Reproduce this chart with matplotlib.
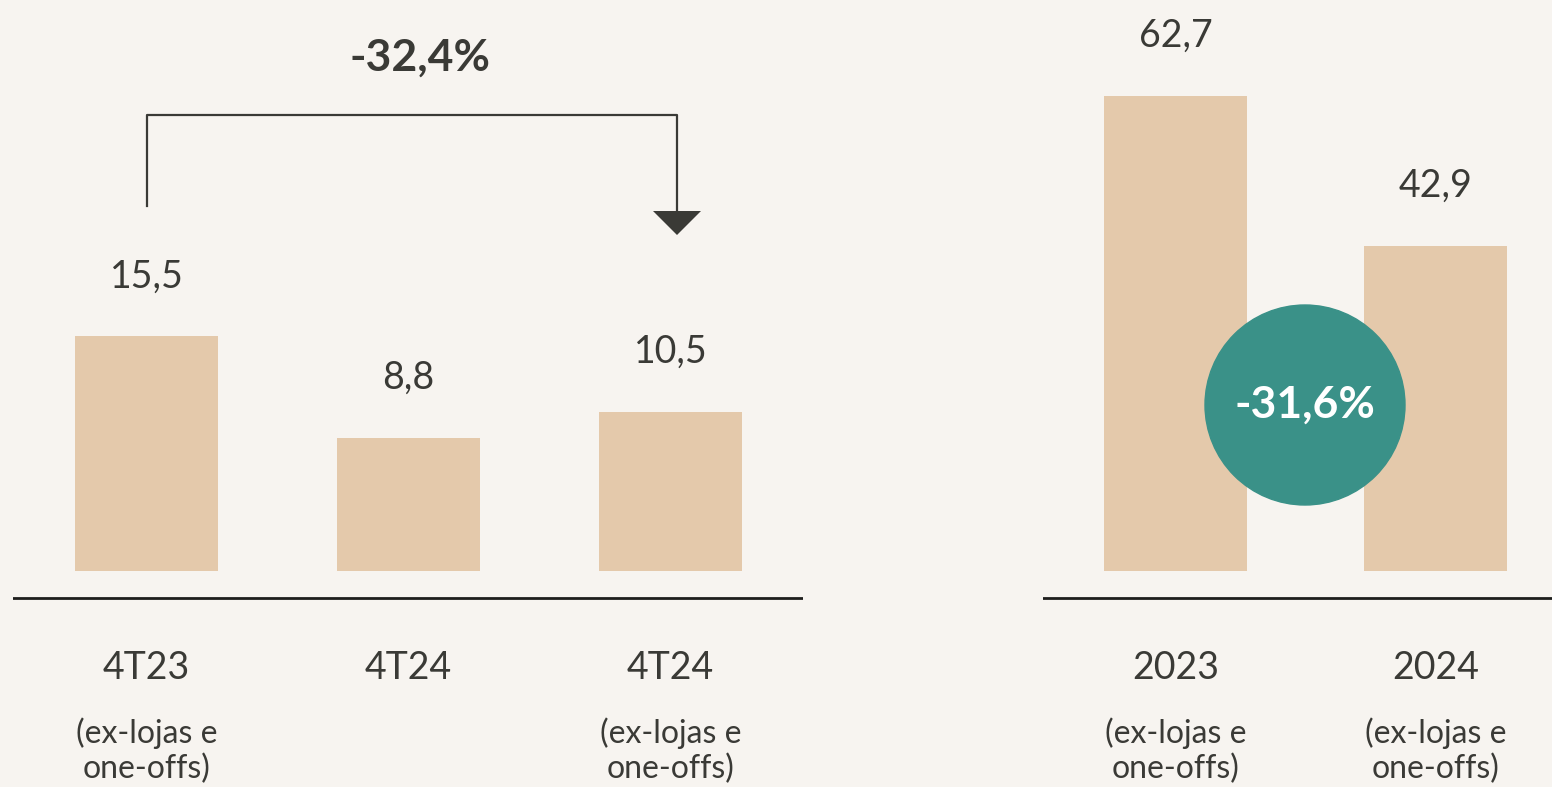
import matplotlib.pyplot as plt
import matplotlib.transforms as mtransforms
from matplotlib.patches import Circle

# dados
quarter_labels = ["4T23", "4T24", "4T24"]
quarter_notes = ["(ex-lojas e\none-offs)", "", "(ex-lojas e\none-offs)"]
quarter_values = [15.5, 8.8, 10.5]
quarter_change = "-32,4%"

year_labels = ["2023", "2024"]
year_notes = ["(ex-lojas e\none-offs)", "(ex-lojas e\none-offs)"]
year_values = [62.7, 42.9]
year_change = "-31,6%"

BG = "#F7F4F0"
BAR = "#E4C9AB"
TXT = "#3A3A36"
TEAL = "#3A9188"

W, H = 1552, 787
plt.rcParams['font.family'] = ['Lato', 'DejaVu Sans']

fig = plt.figure(figsize=(W / 100, H / 100), dpi=100, facecolor=BG)


def fmt(v):
    return f"{v:.1f}".replace(".", ",")


def fy(py):
    return 1 - py / H


def panel(x0, x1, centre0, step, scale, labels, notes, values):
    # eixos cobrindo toda a altura; 0 dos dados no pixel y=571
    ax = fig.add_axes([x0 / W, 0, (x1 - x0) / W, 1])
    ax.set_facecolor("none")
    ax.set_xlim(-(centre0 - x0) / step, (x1 - centre0) / step)
    ax.set_ylim(-(H - 571) / scale, 571 / scale)
    ax.axis("off")
    xs = list(range(len(values)))
    ax.bar(xs, values, width=143 / step, color=BAR)
    ax.axhline(-27 / scale, color="#1E1E1C", lw=2)
    for x, v in zip(xs, values):
        ax.annotate(fmt(v), (x, v), xytext=(0, 43), textcoords="offset points",
                    ha="center", va="center", fontsize=27, color=TXT)
    tr = mtransforms.blended_transform_factory(ax.transData, fig.transFigure)
    for x, lab, note in zip(xs, labels, notes):
        ax.text(x, fy(668), lab, transform=tr, ha="center", va="center",
                fontsize=27, color=TXT)
        if note:
            ax.text(x, fy(751), note, transform=tr, ha="center", va="center",
                    fontsize=23, color=TXT, linespacing=1.2)
    return ax


axl = panel(13, 803, 146.5, 262, 15.15, quarter_labels, quarter_notes, quarter_values)
axr = panel(1043, 1552, 1175.5, 260, 7.58, year_labels, year_notes, year_values)

# seta de variação trimestral
tf = fig.transFigure
bx0, bx1 = 147 / W, 677 / W
fig.add_artist(plt.Line2D([bx0, bx0, bx1, bx1], [fy(206), fy(115), fy(115), fy(213)],
                          transform=tf, color=TXT, lw=1.6))
fig.add_artist(plt.Polygon([[653 / W, fy(211)], [701 / W, fy(211)], [bx1, fy(235)]],
                           closed=True, transform=tf, color=TXT, lw=0))
fig.text(420 / W, fy(58), quarter_change, ha="center", va="center",
         fontsize=32, fontweight="bold", color=TXT)

# círculo de variação anual
circ = Circle((1305, H - 405), 100, transform=None, color=TEAL, zorder=5)
fig.add_artist(circ)
fig.text(1305 / W, fy(405), year_change, ha="center", va="center",
         fontsize=32, fontweight="bold", color="white", zorder=6)

fig.savefig("out.png", dpi=100, facecolor=BG)
